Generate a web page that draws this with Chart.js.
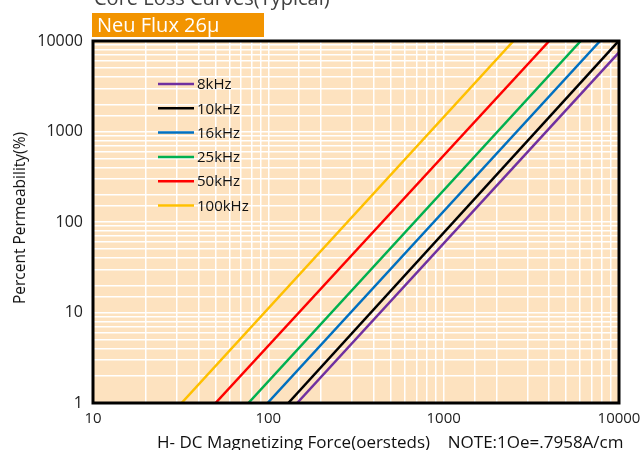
<!DOCTYPE html>
<html>
<head>
<meta charset="utf-8">
<script src="https://cdn.jsdelivr.net/npm/chart.js@4.4.1/dist/chart.umd.min.js"></script>
<style>
    body { margin: 0; background: #fff; font-family: "Open Sans", "Noto Sans", sans-serif; }
    #wrap { position: relative; width: 640px; height: 450px; overflow: hidden; }
    #chart { position: absolute; left: 0; top: 0; }
    #top-title { position: absolute; left: 94px; top: -16px; font-size: 20px; color: #404040; white-space: nowrap; }
    #badge { position: absolute; left: 92px; top: 13px; width: 172px; height: 24px; background: #F29400; color: #fff; font-size: 20px; line-height: 24px; padding-left: 5px; box-sizing: border-box; white-space: nowrap; }
    #y-title { position: absolute; left: 19px; top: 218px; transform: translate(-50%, -50%) rotate(-90deg); font-size: 15.5px; color: #111; white-space: nowrap; }
    #x-title { position: absolute; left: 157px; top: 430px; font-size: 17px; color: #111; white-space: nowrap; }
</style>
</head>
<body>
<div id="wrap">
    <canvas id="chart" width="640" height="450"></canvas>
    <div id="top-title">Core Loss Curves(Typical)</div>
    <div id="badge">Neu Flux 26μ</div>
    <div id="y-title">Percent Permeability(%)</div>
    <div id="x-title">H- DC Magnetizing Force(oersteds)&nbsp;&nbsp;&nbsp; NOTE:1Oe=.7958A/cm</div>
</div>
<script>
const freqLabels = ['8kHz', '10kHz', '16kHz', '25kHz', '50kHz', '100kHz'];
const lineColors = ['#7030A0', '#000000', '#0070C0', '#00B050', '#FF0000', '#FFC000'];
// each curve is a straight line on log-log: from (hStart, 1) to (hEnd, muEnd)
const hStart = [146, 130, 99, 77, 50, 32];
const hEnd = [10000, 9950, 7800, 6050, 4000, 2500];
const muEnd = [7500, 10000, 10000, 10000, 10000, 10000];
const xTicks = [10, 100, 1000, 10000];
const yTicks = [1, 10, 100, 1000, 10000];

const datasets = freqLabels.map(function(label, i) {
    return {
        label: label,
        data: [{ x: hStart[i], y: 1 }, { x: hEnd[i], y: muEnd[i] }],
        borderColor: lineColors[i],
        backgroundColor: lineColors[i],
        borderWidth: 2.5,
        pointRadius: 0,
        showLine: true
    };
});

const plotBack = {
    id: 'plotBack',
    beforeDraw(chart) {
        const a = chart.chartArea, ctx = chart.ctx;
        ctx.save();
        ctx.fillStyle = '#FDE2BF';
        ctx.fillRect(a.left, a.top, a.right - a.left, a.bottom - a.top);
        ctx.restore();
    },
    afterDatasetsDraw(chart) {
        const a = chart.chartArea, ctx = chart.ctx;
        ctx.save();
        // legend inside the plot
        ctx.font = '15px "Open Sans", sans-serif';
        ctx.textBaseline = 'middle';
        chart.data.datasets.forEach(function(ds, i) {
            const y = 84 + i * 24.3;
            ctx.strokeStyle = ds.borderColor;
            ctx.lineWidth = 2.5;
            ctx.beginPath();
            ctx.moveTo(158, y);
            ctx.lineTo(194, y);
            ctx.stroke();
            ctx.fillStyle = '#111';
            ctx.fillText(ds.label, 197, y + 1);
        });
        // frame
        ctx.strokeStyle = '#000';
        ctx.lineWidth = 3;
        ctx.strokeRect(a.left, a.top, a.right - a.left, a.bottom - a.top);
        ctx.restore();
    }
};

new Chart(document.getElementById('chart'), {
    type: 'scatter',
    data: { datasets: datasets },
    plugins: [plotBack],
    options: {
        responsive: false,
        animation: false,
        layout: { padding: { top: 41, right: 21, left: 0, bottom: 0 } },
        plugins: { legend: { display: false }, tooltip: { enabled: false } },
        scales: {
            x: {
                type: 'logarithmic',
                min: 10,
                max: 10000,
                afterFit: function(scale) {
                    scale.height = 47;
                    scale.paddingLeft = 0;
                    scale.paddingRight = 0;
                },
                grid: { color: '#FFFFFF', lineWidth: 1.5, drawTicks: false },
                border: { display: false },
                ticks: {
                    autoSkip: false,
                    maxRotation: 0,
                    padding: 7,
                    color: '#222',
                    font: { size: 15, family: '"Open Sans", sans-serif' },
                    callback: function(v) { return xTicks.includes(v) ? String(v) : ''; }
                }
            },
            y: {
                type: 'logarithmic',
                min: 1,
                max: 10000,
                afterFit: function(scale) {
                    scale.width = 93;
                    scale.paddingTop = 0;
                    scale.paddingBottom = 0;
                },
                grid: { color: '#FFFFFF', lineWidth: 1.5, drawTicks: false },
                border: { display: false },
                ticks: {
                    autoSkip: false,
                    padding: 10,
                    color: '#222',
                    font: { size: 16, family: '"Open Sans", sans-serif' },
                    callback: function(v) { return yTicks.includes(v) ? String(v) : ''; }
                }
            }
        }
    }
});
</script>
</body>
</html>
